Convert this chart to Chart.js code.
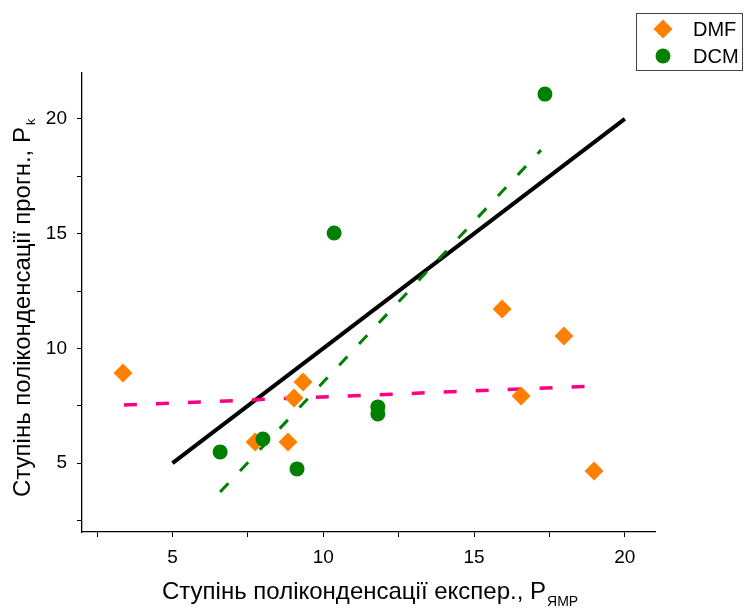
<!DOCTYPE html>
<html>
<head>
<meta charset="utf-8">
<script src="https://cdn.jsdelivr.net/npm/chart.js@4"></script>
<style>
  html, body { margin: 0; padding: 0; background: #fff; }
  #wrap { width: 744px; height: 609px; position: relative; }
</style>
</head>
<body>
<div id="wrap"><canvas id="c" width="744" height="609"></canvas></div>
<script>
// ---- data ----
const dmfX = [3.36, 7.74, 8.83, 9.03, 9.33, 15.93, 16.56, 17.98, 18.98];
const dmfY = [8.93, 5.92, 5.92, 7.84, 8.54, 11.72, 7.93, 10.54, 4.66];
const dcmX = [6.58, 8.00, 9.13, 10.36, 11.81, 11.81, 17.35];
const dcmY = [5.49, 6.05, 4.75, 15.03, 7.45, 7.14, 21.08];

const idealX = [5, 20];
const idealY = [5, 20];
const dcmFitX = [6.58, 17.22];
const dcmFitY = [3.74, 18.64];
const dmfFitX = [3.39, 18.94];
const dmfFitY = [7.53, 8.36];

const xTicks = [2.5, 5, 7.5, 10, 12.5, 15, 17.5, 20];
const yTicks = [2.5, 5, 7.5, 10, 12.5, 15, 17.5, 20];
const xLabelTicks = [5, 10, 15, 20];
const yLabelTicks = [5, 10, 15, 20];

const legendNames = ['DMF', 'DCM'];
const xTitleMain = 'Ступінь поліконденсації експер., P';
const xTitleSub = 'ЯМР';
const yTitleMain = 'Ступінь поліконденсації прогн., P';
const yTitleSub = 'k';

const ORANGE = '#FF8000';
const GREEN = '#008000';
const PINK = '#FF0080';
const FONT = '"Liberation Sans", Arial, sans-serif';

const pts = (xs, ys) => xs.map((x, i) => ({ x, y: ys[i] }));

const titlesAndLegend = {
  id: 'titlesAndLegend',
  afterDraw(chart) {
    const ctx = chart.ctx;
    ctx.save();
    ctx.fillStyle = '#000';
    ctx.textBaseline = 'alphabetic';
    ctx.textAlign = 'left';
    // X title
    ctx.font = '24px ' + FONT;
    const w1 = ctx.measureText(xTitleMain).width;
    const sx = 162;
    ctx.fillText(xTitleMain, sx, 599);
    ctx.font = '14px ' + FONT;
    ctx.fillText(xTitleSub, sx + w1 + 1, 606);
    // Y title
    ctx.save();
    ctx.translate(30, 497);
    ctx.rotate(-Math.PI / 2);
    ctx.font = '24px ' + FONT;
    const v1 = ctx.measureText(yTitleMain).width;
    ctx.fillText(yTitleMain, 0, 0);
    ctx.font = '13px ' + FONT;
    ctx.fillText(yTitleSub, v1 + 2, 5);
    ctx.restore();
    // Legend
    ctx.strokeStyle = '#444';
    ctx.lineWidth = 1;
    ctx.strokeRect(636.5, 13.5, 106, 57);
    const ds0 = chart.data.datasets[0];
    const ds1 = chart.data.datasets[1];
    ctx.fillStyle = ds0.backgroundColor;
    ctx.beginPath();
    ctx.moveTo(663, 29 - 9.5); ctx.lineTo(663 + 9.5, 29); ctx.lineTo(663, 29 + 9.5); ctx.lineTo(663 - 9.5, 29);
    ctx.closePath(); ctx.fill();
    ctx.fillStyle = ds1.backgroundColor;
    ctx.beginPath(); ctx.arc(663, 56, 7.5, 0, Math.PI * 2); ctx.fill();
    ctx.fillStyle = '#000';
    ctx.font = '20px ' + FONT;
    ctx.fillText(legendNames[0], 693, 36);
    ctx.fillText(legendNames[1], 693, 63);
    ctx.restore();
  }
};

new Chart(document.getElementById('c'), {
  type: 'scatter',
  data: {
    datasets: [
      { label: legendNames[0], data: pts(dmfX, dmfY), pointStyle: 'rectRot', pointRadius: 9.5, pointHoverRadius: 9.5,
        backgroundColor: ORANGE, borderColor: ORANGE, borderWidth: 0, order: 1 },
      { label: legendNames[1], data: pts(dcmX, dcmY), pointStyle: 'circle', pointRadius: 7.5, pointHoverRadius: 7.5,
        backgroundColor: GREEN, borderColor: GREEN, borderWidth: 0, order: 0 },
      { type: 'line', label: 'ideal', data: pts(idealX, idealY), showLine: true, borderColor: '#000', borderWidth: 4,
        pointRadius: 0, fill: false, order: 3 },
      { type: 'line', label: 'dcmFit', data: pts(dcmFitX, dcmFitY), showLine: true, borderColor: GREEN, borderWidth: 3,
        borderDash: [12, 17], pointRadius: 0, fill: false, order: 2 },
      { type: 'line', label: 'dmfFit', data: pts(dmfFitX, dmfFitY), showLine: true, borderColor: PINK, borderWidth: 3.5,
        borderDash: [13, 19], pointRadius: 0, fill: false, order: 2 }
    ]
  },
  options: {
    responsive: false,
    animation: false,
    events: [],
    layout: { padding: { left: 0, right: 89, top: 73, bottom: 0 } },
    plugins: { legend: { display: false }, tooltip: { enabled: false }, title: { display: false } },
    scales: {
      x: {
        type: 'linear', min: 2, max: 21,
        afterBuildTicks: s => { s.ticks = xTicks.map(v => ({ value: v })); },
        afterFit: s => { s.height = 609 - 532; },
        grid: { drawOnChartArea: false, drawTicks: true, tickLength: 5, tickColor: '#000', tickWidth: 1 },
        border: { display: true, color: '#000', width: 1.3 },
        ticks: { autoSkip: false, maxRotation: 0, padding: 9, color: '#000', font: { family: FONT, size: 19 },
          callback: v => xLabelTicks.includes(v) ? String(v) : '' }
      },
      y: {
        type: 'linear', min: 2, max: 22,
        afterBuildTicks: s => { s.ticks = yTicks.map(v => ({ value: v })); },
        afterFit: s => { s.width = 82; },
        grid: { drawOnChartArea: false, drawTicks: true, tickLength: 5, tickColor: '#000', tickWidth: 1 },
        border: { display: true, color: '#000', width: 1.3 },
        ticks: { autoSkip: false, padding: 10, color: '#000', font: { family: FONT, size: 19 },
          callback: v => yLabelTicks.includes(v) ? String(v) : '' }
      }
    }
  },
  plugins: [titlesAndLegend]
});
</script>
</body>
</html>
